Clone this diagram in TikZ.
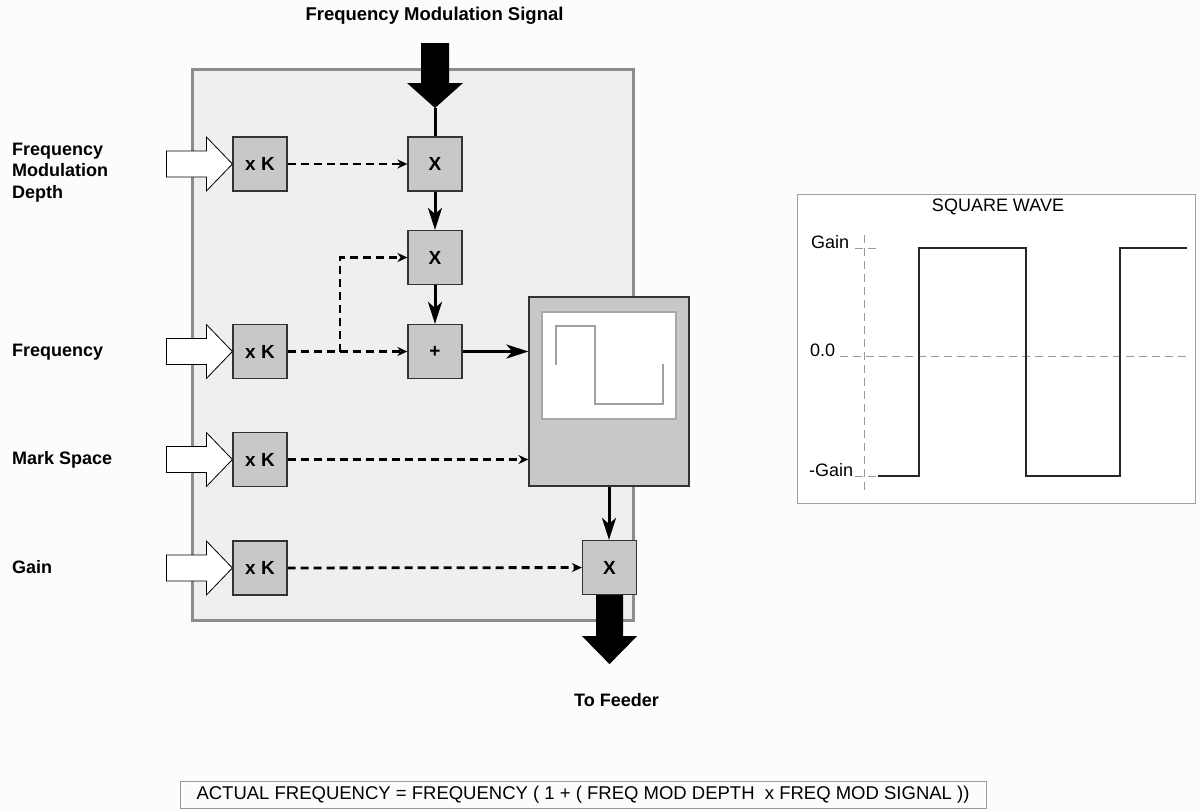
\documentclass[tikz,border=0pt]{standalone}
\usepackage{fontspec}
\setmainfont{Liberation Sans}
\usetikzlibrary{arrows.meta}

\definecolor{pagebg}{HTML}{FCFCFC}
\definecolor{framegray}{HTML}{8C8C8C}
\definecolor{framefill}{HTML}{EFEFEF}
\definecolor{opfill}{HTML}{C8C8C8}
\definecolor{opedge}{HTML}{333333}
\definecolor{screenedge}{HTML}{A8A8A8}
\definecolor{tracegray}{HTML}{A0A0A0}
\definecolor{axisgray}{HTML}{9A9A9A}
\definecolor{paneledge}{HTML}{A0A0A0}

\begin{document}
\begin{tikzpicture}[x=1pt,y=-1pt,
  lbl/.style={font=\bfseries\fontsize{18}{21.5}\selectfont, align=left, anchor=west, inner sep=0pt},
  boldtxt/.style={font=\bfseries\fontsize{18.5}{21}\selectfont, inner sep=0pt},
  plaintxt/.style={font=\fontsize{18}{21}\selectfont, inner sep=0pt},
  opbox/.style={draw=opedge, fill=opfill, line width=1.2pt, minimum width=54pt,
    minimum height=54pt, inner sep=0pt, font=\bfseries\fontsize{19}{19}\selectfont},
  genbox/.style={draw=opedge, fill=opfill, line width=1.2pt, minimum width=160pt,
    minimum height=189pt, inner sep=0pt},
  screenbox/.style={draw=screenedge, fill=white, line width=1.8pt, minimum width=134pt,
    minimum height=107pt, inner sep=0pt},
  dasharrow/.style={line width=2.8pt, dash pattern=on 8pt off 5pt,
    -{Stealth[length=10pt,width=9pt]}},
  flow/.style={line width=3pt, -{Stealth[length=22pt,width=14pt,inset=6pt]}},
  inarrow/.style={draw=black, line width=0.8pt, fill=white},
  axisdash/.style={draw=axisgray, line width=1pt, dash pattern=on 8pt off 5pt}]

% page
\fill[pagebg] (0,0) rectangle (1200,811);
\useasboundingbox (0,0) rectangle (1200,811);

% enclosing frame of the modulator
\draw[framegray, line width=3pt, fill=framefill] (192,69) rectangle (633,620);

% scaling blocks
\node[opbox] (kd) at (260,164) {x K};
\node[opbox] (kf) at (260,351.5) {x K};
\node[opbox] (km) at (260,459.5) {x K};
\node[opbox] (kg) at (260,568) {x K};

% arithmetic blocks
\node[opbox] (m1) at (435,164) {X};
\node[opbox] (m2) at (435,257.5) {X};
\node[opbox] (add) at (435,351.5) {+};
\node[opbox] (m3) at (609.5,567.5) {X};

% square wave generator
\node[genbox] (gen) at (609,391.5) {};
\node[screenbox] (scr) at (609,365.5) {};
\draw[tracegray, line width=1.5pt] (556,365) -- (556,326) -- (595,326) -- (595,404) -- (663,404) -- (663,364);

% input labels
\node[lbl] (ldepth) at (12,172.5) {Frequency\\Modulation\\Depth};
\node[lbl] (lfreq) at (12,352) {Frequency};
\node[lbl] (lmark) at (12,459.5) {Mark Space};
\node[lbl] (lgain) at (12,567) {Gain};

% hollow input arrows
\foreach \k in {kd,kf,km,kg}
  \draw[inarrow] (\k.west) -- ++(-26,-27) -- ++(0,14) -- ++(-40,0) -- ++(0,26)
    -- ++(40,0) -- ++(0,14) -- cycle;

% modulation signal input
\node[boldtxt] (fmsig) at (434.5,15.5) {Frequency Modulation Signal};
\coordinate (fmtip) at (435,108);
\fill (fmtip) -- ++(-28,-25) -- ++(14,0) -- ++(0,-40) -- ++(28,0) -- ++(0,40) -- ++(14,0) -- cycle;
\draw[line width=3pt] (fmtip) -- (m1.north);

% scaled parameters
\draw[dasharrow] (kd) -- (m1);
\draw[dasharrow] (kf) -- (add);
\coordinate (split) at (340,351.5);
\draw[dasharrow] (split) |- (m2);
\draw[dasharrow] (km) -- (km -| gen.west);
\draw[dasharrow] (kg) -- (m3);

% signal path
\draw[flow] (m1) -- (m2);
\draw[flow] (m2) -- (add);
\draw[flow] (add) -- (add -| gen.west);
\draw[flow] (gen.south) -- (gen.south |- m3.north);

% output
\fill (m3.south) ++(-13.5,0) -- ++(27,0) -- ++(0,41) -- ++(14,0) -- ++(-27.5,28)
  -- ++(-27.5,-28) -- ++(14,0) -- cycle;
\node[lbl, anchor=center] (feeder) at (616.5,700) {To Feeder};

% square wave plot
\draw[paneledge, line width=1pt, fill=white] (797,194) rectangle (1195,503);
\node[plaintxt] (swtitle) at (998,207) {SQUARE WAVE};
\draw[axisdash] (864,235) -- (864,495);
\draw[axisdash] (840,356) -- (1188,356);
\draw[axisdash] (855,248) -- (877,248);
\draw[axisdash] (855,476) -- (878,476);
\node[plaintxt, anchor=west] (ygain) at (811,242) {Gain};
\node[plaintxt, anchor=west] (yzero) at (810,350) {0.0};
\node[plaintxt, anchor=west] (yneg) at (809,470) {-Gain};
\draw[line width=1.3pt, black!85] (878,476) -- (919,476) -- (919,248) -- (1026,248)
  -- (1026,476) -- (1120,476) -- (1120,248) -- (1187,248);

% relation
\node[draw=axisgray, line width=1pt, minimum height=27pt, minimum width=806pt,
  inner xsep=0pt, inner ysep=0pt, font=\fontsize{18.5}{21}\selectfont] (formula) at (583,794.5)
  {ACTUAL FREQUENCY = FREQUENCY ( 1 + ( FREQ MOD DEPTH\ \ x FREQ MOD SIGNAL ))};
\end{tikzpicture}
\end{document}
